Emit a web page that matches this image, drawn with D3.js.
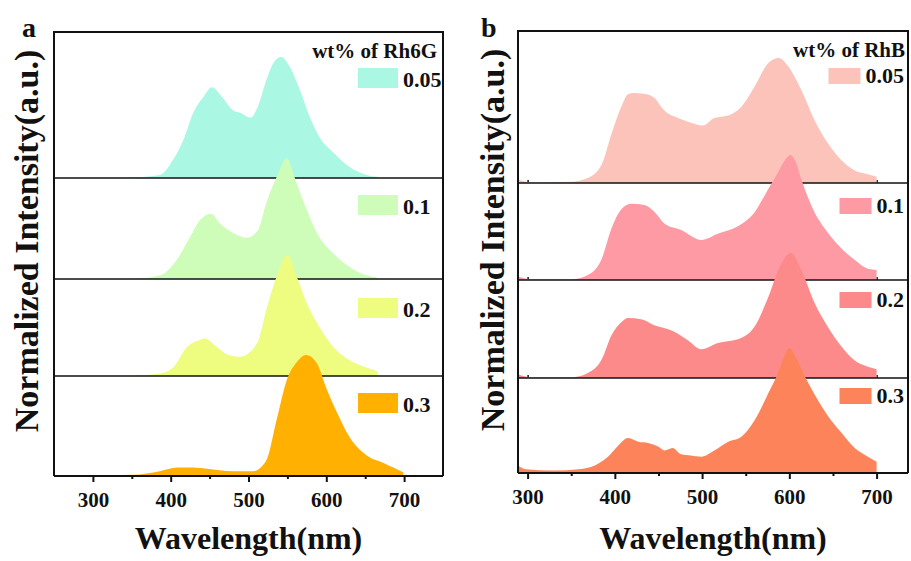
<!DOCTYPE html>
<html>
<head>
<meta charset="utf-8">
<script src="https://cdn.jsdelivr.net/npm/d3@7/dist/d3.min.js"></script>
<style>
  body { margin: 0; background: #fff; }
  svg { display: block; }
  text { font-family: "Liberation Serif", "Times New Roman", serif; font-weight: bold; fill: #111; }
</style>
</head>
<body>
<svg id="chart" width="911" height="561"></svg>
<script>
// ---- Data: emission spectra, [wavelength (nm), normalized intensity] ----
const rh6gLabels = ["0.05", "0.1", "0.2", "0.3"];
const rh6gColors = ["#aaf7e3", "#cdfdb9", "#eefd80", "#ffb000"];
const rh6g005 = [[324,0],[350,0.004],[386,0.025],[403,0.15],[416,0.31],[429,0.54],[442,0.67],[453,0.75],[466,0.67],[480,0.56],[489,0.54],[503,0.50],[512,0.59],[523,0.81],[533,0.96],[542,1.0],[553,0.92],[566,0.73],[579,0.50],[592,0.33],[609,0.21],[630,0.09],[652,0.025],[666,0.01]];
const rh6g01 = [[325,0],[360,0.005],[386,0.03],[408,0.16],[425,0.35],[438,0.49],[452,0.54],[463,0.46],[480,0.38],[498,0.34],[512,0.40],[523,0.63],[536,0.84],[549,1.0],[562,0.79],[575,0.57],[588,0.38],[609,0.21],[630,0.10],[652,0.03],[666,0.01]];
const rh6g02 = [[325,0],[360,0.005],[386,0.02],[403,0.07],[421,0.24],[438,0.30],[444,0.31],[459,0.24],[476,0.17],[489,0.16],[511,0.27],[523,0.55],[536,0.82],[550,1.0],[562,0.82],[575,0.60],[588,0.44],[609,0.24],[630,0.13],[643,0.09],[656,0.06],[666,0.04]];
const rh6g03 = [[290,0.005],[352,0.01],[386,0.04],[408,0.07],[429,0.07],[446,0.06],[480,0.04],[506,0.04],[523,0.13],[536,0.46],[549,0.79],[562,0.94],[574,1.0],[588,0.93],[601,0.71],[614,0.52],[630,0.32],[652,0.17],[673,0.11],[686,0.07],[699,0.03]];

const rhbLabels = ["0.05", "0.1", "0.2", "0.3"];
const rhbColors = ["#fcc3ba", "#fd9aa3", "#fd8a8a", "#fd845a"];
const rhb005 = [[289,0.03],[293,0.02],[305,0.005],[350,0.01],[369,0.04],[385,0.15],[396,0.39],[408,0.62],[415,0.71],[422,0.72],[432,0.715],[441,0.70],[447,0.67],[453,0.61],[460,0.56],[469,0.53],[484,0.49],[501,0.46],[514,0.52],[530,0.54],[545,0.61],[560,0.77],[576,0.96],[588,1.0],[598,0.94],[614,0.74],[629,0.50],[644,0.32],[660,0.18],[675,0.10],[690,0.07],[700,0.05]];
const rhb01 = [[289,0.03],[293,0.02],[305,0.005],[350,0.005],[369,0.04],[385,0.17],[396,0.41],[408,0.57],[419,0.61],[434,0.60],[446,0.54],[457,0.45],[476,0.40],[499,0.32],[518,0.37],[541,0.43],[560,0.54],[576,0.73],[587,0.86],[595,0.96],[601,1.0],[607,0.95],[614,0.80],[629,0.54],[644,0.38],[660,0.25],[675,0.16],[690,0.09],[700,0.08]];
const rhb02 = [[289,0.03],[293,0.02],[305,0.005],[350,0.005],[369,0.04],[385,0.15],[396,0.34],[408,0.45],[415,0.48],[430,0.47],[446,0.42],[465,0.38],[484,0.30],[499,0.23],[518,0.28],[541,0.31],[560,0.41],[576,0.65],[589,0.89],[602,1.0],[614,0.86],[629,0.60],[644,0.41],[660,0.25],[675,0.14],[690,0.09],[700,0.07]];
const rhb03 = [[289,0.06],[298,0.03],[329,0.02],[359,0.03],[377,0.06],[392,0.13],[404,0.22],[415,0.28],[427,0.25],[438,0.24],[450,0.21],[457,0.18],[466,0.20],[476,0.15],[487,0.14],[499,0.13],[514,0.18],[530,0.25],[545,0.29],[560,0.42],[576,0.64],[587,0.80],[594,0.93],[600,1.0],[607,0.93],[618,0.77],[633,0.58],[648,0.42],[660,0.32],[675,0.20],[690,0.13],[700,0.09]];

const majorTicks = [300, 400, 500, 600, 700];
const minorTicks = [350, 450, 550, 650];

// ---- Panel layout ----
const panels = [
  {
    letter: "a", title: "wt% of Rh6G",
    labels: rh6gLabels, colors: rh6gColors, series: [rh6g005, rh6g01, rh6g02, rh6g03],
    left: 54, right: 443, top: 32, baselines: [178, 279, 376, 476], peak: 121,
    domain: [250, 750], legendAlign: "left", swatchW: 40, swatchH: 20,
    legendX: 358, legendOffsets: [36, 17, 19, 17], layerTicks: false,
    titleRight: 437, letterPos: [22, 37], yLabelX: 38, yLabelY: 241
  },
  {
    letter: "b", title: "wt% of RhB",
    labels: rhbLabels, colors: rhbColors, series: [rhb005, rhb01, rhb02, rhb03],
    left: 518, right: 908, top: 31, baselines: [183, 280, 378, 473], peak: 125,
    domain: [289, 736], legendAlign: "right", swatchW: 32, swatchH: 16,
    legendX: 904, legendOffsets: [37, 15, 12, 10], layerTicks: true,
    titleRight: 905, letterPos: [481, 37], yLabelX: 504, yLabelY: 240
  }
];

const svg = d3.select("#chart");

panels.forEach(p => {
  const g = svg.append("g");
  const x = d3.scaleLinear().domain(p.domain).range([p.left, p.right]);
  const layerTops = [p.top].concat(p.baselines.slice(0, -1));

  p.series.forEach((data, i) => {
    const y = d3.scaleLinear().domain([0, 1]).range([p.baselines[i], p.baselines[i] - p.peak]);

    // short inward ticks of each stacked layer (mostly hidden under the fill)
    if (p.layerTicks && i < p.series.length - 1) {
      g.append("g")
        .attr("transform", `translate(0,${p.baselines[i]})`)
        .call(d3.axisTop(x).tickValues(majorTicks).tickSize(3).tickFormat(""))
        .call(a => a.select(".domain").remove())
        .call(a => a.selectAll("line").attr("stroke", "#111").attr("stroke-width", 1.5));
    }

    const area = d3.area()
      .x(d => x(d[0]))
      .y0(y(0))
      .y1(d => y(d[1]))
      .curve(d3.curveMonotoneX);

    g.append("path")
      .datum(data)
      .attr("d", area)
      .attr("fill", p.colors[i]);

    // layer separator / bottom axis line
    g.append("line")
      .attr("x1", p.left).attr("x2", p.right)
      .attr("y1", p.baselines[i]).attr("y2", p.baselines[i])
      .attr("stroke", "#111")
      .attr("stroke-width", i === p.series.length - 1 ? 2 : 1.5);
  });

  // frame: top, left, right
  const bottom = p.baselines[p.baselines.length - 1];
  g.append("path")
    .attr("d", `M${p.left},${bottom}V${p.top}H${p.right}V${bottom}`)
    .attr("fill", "none").attr("stroke", "#111").attr("stroke-width", 2);

  // bottom axis
  const axis = g.append("g").attr("transform", `translate(0,${bottom})`);
  axis.append("g")
    .call(d3.axisBottom(x).tickValues(majorTicks).tickSize(6).tickPadding(10).tickFormat(d3.format("d")))
    .call(a => a.select(".domain").remove())
    .call(a => a.selectAll("line").attr("stroke", "#111").attr("stroke-width", 2))
    .call(a => a.selectAll("text")
      .attr("fill", "#111")
      .style("font-size", "21px")
      .style("font-family", "'Liberation Serif', serif")
      .style("font-weight", "bold"));
  axis.append("g")
    .call(d3.axisBottom(x).tickValues(minorTicks).tickSize(3).tickFormat(""))
    .call(a => a.select(".domain").remove())
    .call(a => a.selectAll("line").attr("stroke", "#111").attr("stroke-width", 2));

  // legend
  g.append("text")
    .attr("x", p.titleRight).attr("y", p.top + 26)
    .attr("text-anchor", "end")
    .style("font-size", "21px")
    .text(p.title);

  p.labels.forEach((lab, i) => {
    const yTop = layerTops[i] + p.legendOffsets[i];
    const t = g.append("text")
      .attr("y", yTop + p.swatchH - 1)
      .style("font-size", "22px")
      .text(lab);
    let sx;
    if (p.legendAlign === "left") {
      sx = p.legendX;
      t.attr("x", sx + p.swatchW + 5);
    } else {
      t.attr("x", p.legendX).attr("text-anchor", "end");
      const w = t.node().getComputedTextLength();
      sx = p.legendX - w - 5 - p.swatchW;
    }
    g.append("rect")
      .attr("x", sx).attr("y", yTop)
      .attr("width", p.swatchW).attr("height", p.swatchH)
      .attr("fill", p.colors[i]);
  });

  // panel letter
  g.append("text")
    .attr("x", p.letterPos[0]).attr("y", p.letterPos[1])
    .style("font-size", "28px")
    .text(p.letter);

  // axis titles
  g.append("text")
    .attr("transform", `translate(${p.yLabelX},${p.yLabelY}) rotate(-90)`)
    .attr("text-anchor", "middle")
    .style("font-size", "34px")
    .text("Normalized Intensity(a.u.)");

  g.append("text")
    .attr("x", (p.left + p.right) / 2).attr("y", 549)
    .attr("text-anchor", "middle")
    .style("font-size", "32px")
    .text("Wavelength(nm)");
});
</script>
</body>
</html>
